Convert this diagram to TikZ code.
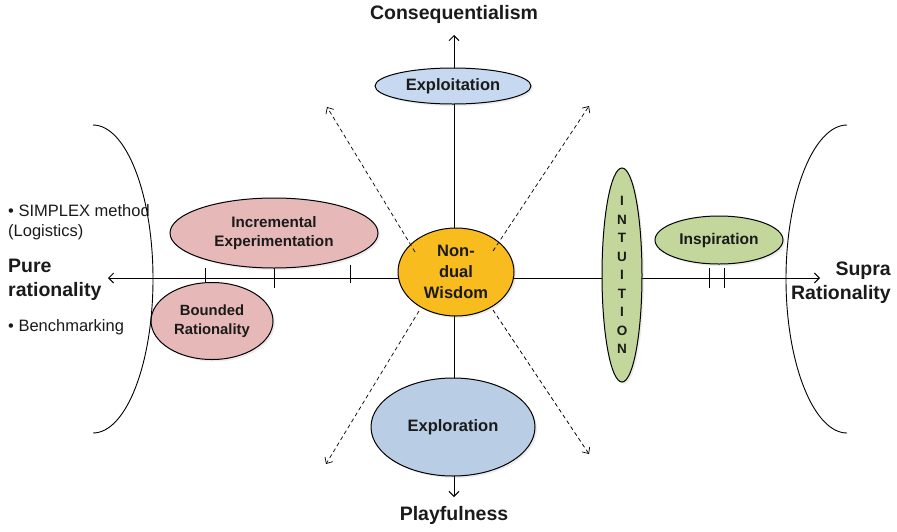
\documentclass[tikz,border=0pt]{standalone}
\usepackage{fontspec}
\setmainfont{Liberation Sans}
\usetikzlibrary{shapes.geometric,arrows.meta,backgrounds,shadows}
\definecolor{blueA}{HTML}{C6D9F0}
\definecolor{blueB}{HTML}{B9CDE5}
\definecolor{pinkA}{HTML}{E6B9B8}
\definecolor{orangeA}{HTML}{F9BC1E}
\definecolor{greenA}{HTML}{C3D69B}
\definecolor{inkA}{HTML}{1A1A1A}
\begin{document}
\begin{tikzpicture}[x=1pt,y=-1pt,
  bub/.style={ellipse, draw=black, line width=1pt, inner sep=0pt, text=inkA,
    font=\fontsize{16.5}{20}\selectfont\bfseries, align=center,
    drop shadow={shadow xshift=2pt, shadow yshift=-2pt, opacity=0.15}},
  title/.style={font=\fontsize{19.5}{24}\selectfont\bfseries, text=inkA, inner sep=0pt},
  plain/.style={font=\fontsize{16.5}{20}\selectfont, text=inkA, inner sep=0pt, align=left, anchor=west},
  axisline/.style={line width=0.9pt, {Straight Barb[length=5pt,width=10pt]}-{Straight Barb[length=5pt,width=10pt]}},
  diag/.style={line width=0.7pt, dash pattern=on 4pt off 3pt, -{Straight Barb[length=5pt,width=9pt]}},
  tick/.style={line width=0.9pt},
  bracket/.style={line width=0.9pt}
]
\useasboundingbox (0,0) rectangle (897,531);

% axis end points
\coordinate (ltip) at (108,278);
\coordinate (rtip) at (820,278);
\coordinate (ttip) at (454,35);
\coordinate (btip) at (454,497);

% nodes
\node[bub, fill=blueA, minimum width=156pt, minimum height=36pt] (expt) at (453,86) {Exploitation};
\node[bub, fill=blueB, minimum width=164pt, minimum height=98pt] (expr) at (453,427) {Exploration};
\node[bub, fill=pinkA, minimum width=208pt, minimum height=70pt, font=\fontsize{15.2}{19}\selectfont\bfseries] (incr) at (274,233) {Incremental\\Experimentation};
\node[bub, fill=pinkA, minimum width=122pt, minimum height=77pt, font=\fontsize{14.8}{19.5}\selectfont\bfseries] (bnd) at (212,321) {Bounded\\Rationality};
\node[bub, fill=orangeA, minimum width=116pt, minimum height=88pt, font=\fontsize{16.5}{21}\selectfont\bfseries] (nd) at (456,272) {Non-\\dual\\Wisdom};
\node[bub, fill=greenA, minimum width=40pt, minimum height=214pt] (intu) at (622,275) {};
\node[font=\fontsize{13.5}{18.5}\selectfont\bfseries, text=inkA, align=center, inner sep=0pt] (intutext) at (intu) {I\\N\\T\\U\\I\\T\\I\\O\\N};
\node[bub, fill=greenA, minimum width=128pt, minimum height=48pt, font=\fontsize{15.5}{20}\selectfont\bfseries] (insp) at (719,240) {Inspiration};

% titles and side texts
\node[title] (cons) at (454,14) {Consequentialism};
\node[title] (play) at (454,515) {Playfulness};
\node[title, align=left, anchor=west] (pure) at (8,280) {Pure\\rationality};
\node[title, align=right, anchor=east] (supra) at (891,283) {Supra\\Rationality};
\node[plain] (simplex) at (8,222) {\textbullet\ SIMPLEX method\\(Logistics)};
\node[plain] (bench) at (8,327) {\textbullet\ Benchmarking};

% axes and ticks behind nodes
\begin{scope}[on background layer]
  \draw[axisline] (ltip) -- (rtip);
  \draw[axisline] (btip) -- (ttip);
  \draw[tick] (205,268) -- (205,284);
  \draw[tick] (274,268) -- (274,288);
  \draw[tick] (350,265) -- (350,283);
  \draw[tick] (709,268) -- (709,288);
  \draw[tick] (724,268) -- (724,288);
\end{scope}

% brackets
\draw[bracket] (93,125) .. controls (126,125) and (153,194) .. (153,279) .. controls (153,364) and (126,433) .. (93,433);
\draw[bracket] (847,125) .. controls (814,125) and (786,194) .. (786,279) .. controls (786,364) and (814,433) .. (847,433);

% dashed diagonals
\coordinate (d1s) at (415,252);
\coordinate (d1e) at (327,107);
\coordinate (d2s) at (493,251);
\coordinate (d2e) at (589,106);
\coordinate (d3s) at (419,311);
\coordinate (d3e) at (326,464);
\coordinate (d4s) at (493,310);
\coordinate (d4e) at (589,454);
\draw[diag] (d1s) -- (d1e);
\draw[diag] (d2s) -- (d2e);
\draw[diag] (d3s) -- (d3e);
\draw[diag] (d4s) -- (d4e);
\end{tikzpicture}
\end{document}
